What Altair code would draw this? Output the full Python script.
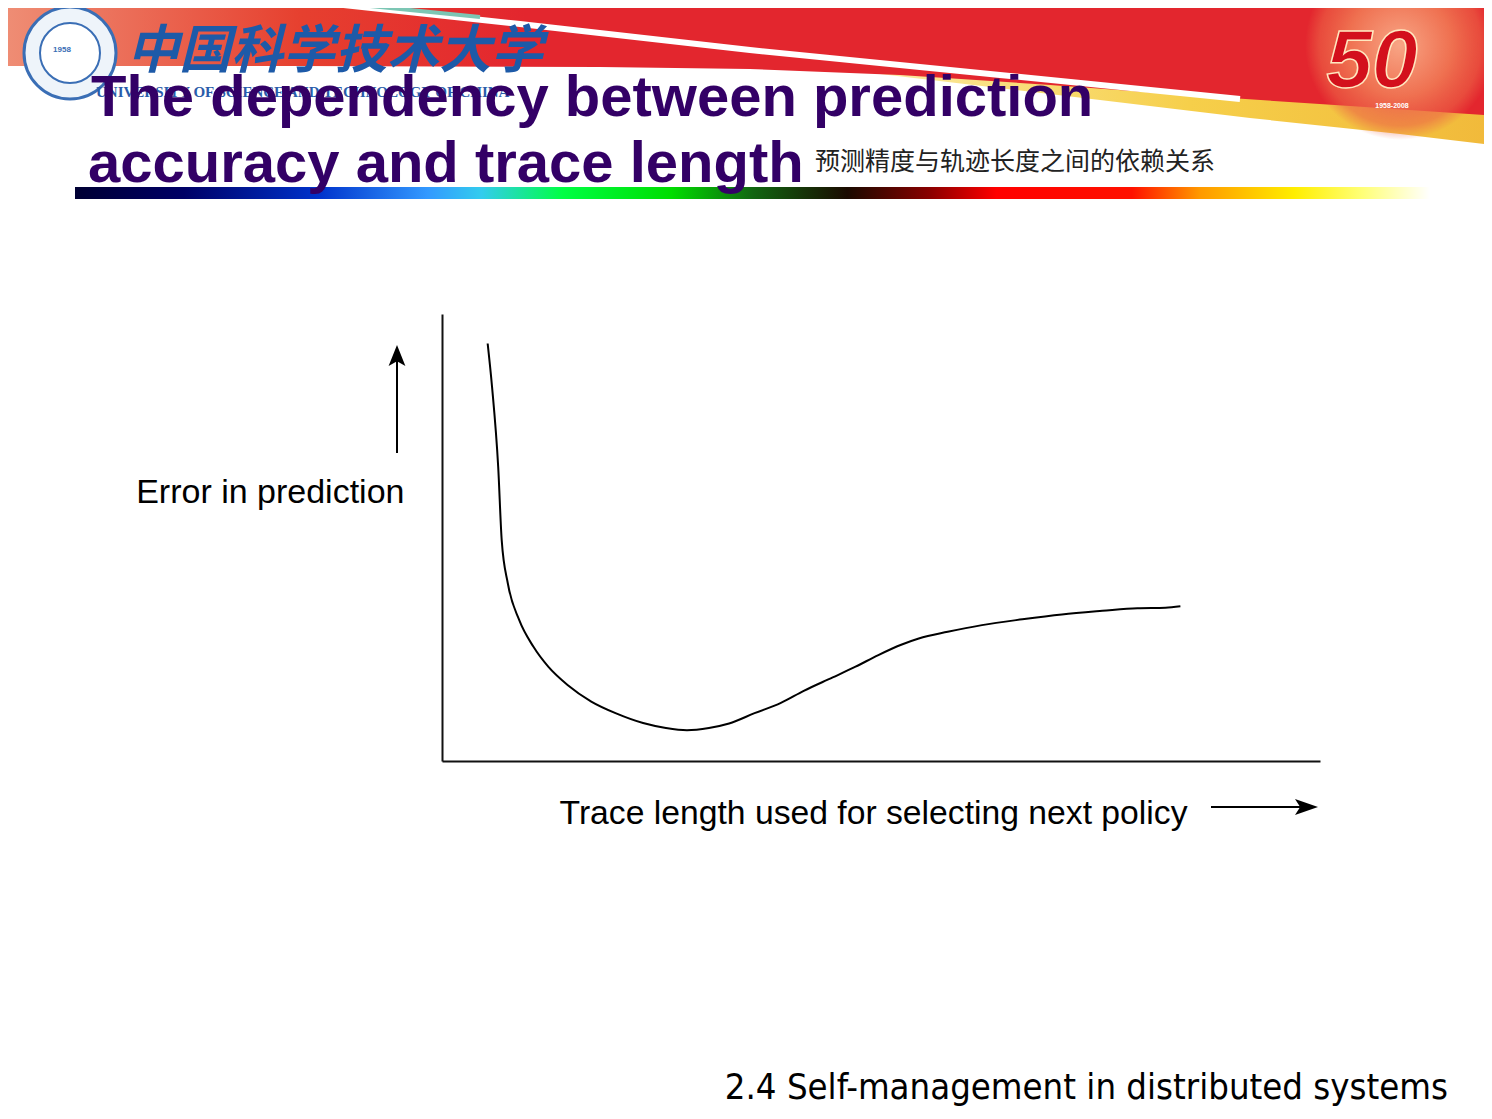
import altair as alt
import pandas as pd

# curve (axis runs 0-100 in both directions, no ticks shown)
trace_length = [5.2, 5.7, 6.4, 6.8, 7.5, 8.8, 10.4, 12.1, 14.3, 17.0, 19.9, 22.9,
                25.5, 27.9, 30.4, 32.7, 35.6, 38.6, 41.2, 44.5, 47.1, 49.7, 52.3,
                54.3, 57.6, 61.5, 66.1, 70.6, 75.2, 79.2, 82.4, 84.1]
prediction_error = [93.4, 83.7, 65.8, 49.4, 39.7, 31.5, 25.6, 21.1, 17.0, 13.3, 10.6,
                    8.5, 7.4, 6.9, 7.4, 8.4, 10.7, 13.0, 15.7, 18.7, 21.1, 23.7, 26.0,
                    27.4, 28.9, 30.4, 31.7, 32.8, 33.6, 34.2, 34.3, 34.6]

title_lines = ["The dependency between prediction", "accuracy and trace length"]
subtitle_cn = "预测精度与轨迹长度之间的依赖关系"
x_label = "Trace length used for selecting next policy"
y_label = "Error in prediction"
footer = "2.4 Self-management in distributed systems"
school_cn = "中国科学技术大学"
school_en = "UNIVERSITY OF SCIENCE AND TECHNOLOGY OF CHINA"

W, H = 878, 447          # plot area
OX, OY = 442, 314        # where the plot area sits on the page


def px(x):
    return x - OX


def py(y):
    return y - OY


one = alt.Data(values=[{}])
NOSCALE = dict(scale=None, axis=None)

# --- slide banner (decoration, page pixels) ---
red_edge = pd.DataFrame({
    "x": [px(v) for v in [0, 300, 600, 750, 900, 1050, 1200, 1350, 1500]],
    "y": [py(v) for v in [66, 66, 67, 69, 75, 85, 96, 106, 116]],
})
yellow_edge = pd.DataFrame({
    "x": [px(v) for v in [880, 1100, 1250, 1400, 1500]],
    "y": [py(v) for v in [74, 100, 118, 134, 146]],
})
red_edge["top"] = py(-10)
yellow_edge["top"] = py(-10)
streak = pd.DataFrame({
    "x": [px(v) for v in [297, 520, 750, 1000, 1240]],
    "y": [py(v) for v in [0, 24, 50, 75, 99]],
})
teal = pd.DataFrame({
    "x": [px(v) for v in [310, 480]],
    "y": [py(v) for v in [0, 17]],
})

yellow = alt.Chart(yellow_edge).mark_area(
    color=alt.Gradient(gradient="linear", x1=0, x2=1, y1=0, y2=0,
                       stops=[alt.GradientStop(offset=0, color="#FBE9A0"),
                              alt.GradientStop(offset=0.5, color="#F6CF4A"),
                              alt.GradientStop(offset=1, color="#F1B93A")])
).encode(x=alt.X("x:Q", **NOSCALE), y=alt.Y("y:Q", **NOSCALE), y2="top:Q")

red = alt.Chart(red_edge).mark_area(
    color=alt.Gradient(gradient="linear", x1=0, x2=1, y1=0, y2=0,
                       stops=[alt.GradientStop(offset=0, color="#EF8F76"),
                              alt.GradientStop(offset=0.2, color="#E6402F"),
                              alt.GradientStop(offset=0.35, color="#E3262E"),
                              alt.GradientStop(offset=1, color="#E3262E")])
).encode(x=alt.X("x:Q", **NOSCALE), y=alt.Y("y:Q", **NOSCALE), y2="top:Q")

halo = alt.Chart(one).mark_point(
    shape="circle", opacity=1, size=36000, strokeWidth=0,
    fill=alt.Gradient(gradient="radial", x1=0.5, y1=0.5, r1=0, x2=0.5, y2=0.5, r2=0.5,
                      stops=[alt.GradientStop(offset=0, color="#F8A585"),
                             alt.GradientStop(offset=0.55, color="#EF7050"),
                             alt.GradientStop(offset=0.85, color="rgba(236,100,70,0.6)"),
                             alt.GradientStop(offset=1, color="rgba(236,100,70,0)")])
).encode(x=alt.value(px(1400)), y=alt.value(py(45)))

white_streak = alt.Chart(streak).mark_line(color="white", strokeWidth=6).encode(
    x=alt.X("x:Q", **NOSCALE), y=alt.Y("y:Q", **NOSCALE))
teal_streak = alt.Chart(teal).mark_line(color="#7CC6B4", strokeWidth=4).encode(
    x=alt.X("x:Q", **NOSCALE), y=alt.Y("y:Q", **NOSCALE))

logo50 = alt.Chart(one).mark_text(
    text="50", font="Liberation Sans", fontSize=82, fontWeight="bold", fontStyle="italic",
    color="#D3101C", stroke="#FFE8C0", strokeWidth=1.5, align="center", baseline="middle"
).encode(x=alt.value(px(1372)), y=alt.value(py(62)))
logo_years = alt.Chart(one).mark_text(
    text="1958-2008", font="Liberation Sans", fontSize=7, fontWeight="bold", color="white"
).encode(x=alt.value(px(1392)), y=alt.value(py(106)))

seal_outer = alt.Chart(one).mark_point(shape="circle", fill="#EEF4FA", stroke="#3A6EB5",
                                       strokeWidth=3, opacity=1, size=8464).encode(
    x=alt.value(px(70)), y=alt.value(py(53)))
seal_inner = alt.Chart(one).mark_point(shape="circle", fill="white", stroke="#3A6EB5",
                                       strokeWidth=2, opacity=1, size=3600).encode(
    x=alt.value(px(70)), y=alt.value(py(53)))
seal_year = alt.Chart(one).mark_text(text="1958", font="Liberation Sans", fontSize=8,
                                     fontWeight="bold", color="#3A6EB5").encode(
    x=alt.value(px(62)), y=alt.value(py(50)))

school_mark = alt.Chart(one).mark_text(
    text=school_cn, font="Noto Sans CJK SC", fontSize=52, fontWeight="bold",
    fontStyle="italic", color="#1D5AA8", align="left", baseline="alphabetic"
).encode(x=alt.value(px(127)), y=alt.value(py(68)))
school_name = alt.Chart(one).mark_text(
    text=school_en, font="Liberation Serif", fontSize=15, fontWeight="bold",
    color="#2A5CAA", align="left", baseline="alphabetic"
).encode(x=alt.value(px(96)), y=alt.value(py(97)))

title1 = alt.Chart(one).mark_text(
    text=title_lines[0], font="Liberation Sans", fontSize=58, fontWeight="bold",
    color="#330066", align="left", baseline="alphabetic"
).encode(x=alt.value(px(91)), y=alt.value(py(116)))
title2 = alt.Chart(one).mark_text(
    text=title_lines[1], font="Liberation Sans", fontSize=58, fontWeight="bold",
    color="#330066", align="left", baseline="alphabetic"
).encode(x=alt.value(px(88)), y=alt.value(py(182)))
subtitle = alt.Chart(one).mark_text(
    text=subtitle_cn, font="Noto Sans CJK SC", fontSize=25, color="#222222",
    align="left", baseline="alphabetic"
).encode(x=alt.value(px(815)), y=alt.value(py(170)))

rainbow = alt.Chart(one).mark_rect(
    color=alt.Gradient(gradient="linear", x1=0, x2=1, y1=0, y2=0, stops=[
        alt.GradientStop(offset=0, color="#000033"),
        alt.GradientStop(offset=0.08, color="#000066"),
        alt.GradientStop(offset=0.18, color="#0033CC"),
        alt.GradientStop(offset=0.26, color="#3399FF"),
        alt.GradientStop(offset=0.30, color="#33CCEE"),
        alt.GradientStop(offset=0.36, color="#00FF44"),
        alt.GradientStop(offset=0.44, color="#00DD00"),
        alt.GradientStop(offset=0.50, color="#116611"),
        alt.GradientStop(offset=0.57, color="#1A0A00"),
        alt.GradientStop(offset=0.63, color="#880000"),
        alt.GradientStop(offset=0.68, color="#FF0000"),
        alt.GradientStop(offset=0.78, color="#FF1100"),
        alt.GradientStop(offset=0.83, color="#FF9900"),
        alt.GradientStop(offset=0.90, color="#FFEE00"),
        alt.GradientStop(offset=0.95, color="#FFFF77"),
        alt.GradientStop(offset=1, color="#FFFFFF"),
    ])
).encode(x=alt.value(px(75)), x2=alt.value(px(1430)), y=alt.value(py(187)), y2=alt.value(py(199)))

# --- the actual chart ---
df = pd.DataFrame({"trace": trace_length, "error": prediction_error})

curve = alt.Chart(df).mark_line(color="#000000", strokeWidth=2, interpolate="monotone").encode(
    x=alt.X("trace:Q", scale=alt.Scale(domain=[0, 100]),
            axis=alt.Axis(title=x_label, ticks=False, labels=False, grid=False,
                          domainColor="#111111", domainWidth=2,
                          titleFont="Liberation Sans", titleFontSize=33.7,
                          titleFontWeight="normal", titleColor="#000000",
                          titleAlign="right", titleBaseline="alphabetic",
                          titleX=1187 - OX, titleY=823 - (OY + H))),
    y=alt.Y("error:Q", scale=alt.Scale(domain=[0, 100]),
            axis=alt.Axis(title=y_label, ticks=False, labels=False, grid=False,
                          domainColor="#111111", domainWidth=2,
                          titleFont="Liberation Sans", titleFontSize=34,
                          titleFontWeight="normal", titleColor="#000000",
                          titleAngle=0, titleAlign="right", titleBaseline="alphabetic",
                          titleX=404 - OX, titleY=502 - OY)),
)

# arrows beside the axis titles
y_arrow = alt.Chart(one).mark_rule(color="#000000", strokeWidth=2).encode(
    x=alt.value(px(397)), y=alt.value(py(453)), y2=alt.value(py(360)))
y_head = alt.Chart(one).mark_point(shape="M0,-1 L0.8,1 L0,0.55 L-0.8,1 Z", filled=True,
                                   color="#000000", opacity=1, size=441).encode(
    x=alt.value(px(397)), y=alt.value(py(355.5)))
x_arrow = alt.Chart(one).mark_rule(color="#000000", strokeWidth=2).encode(
    x=alt.value(px(1211)), x2=alt.value(px(1300)), y=alt.value(py(807)))
x_head = alt.Chart(one).mark_point(shape="M1,0 L-1,-0.7 L-0.55,0 L-1,0.7 Z", filled=True,
                                   color="#000000", opacity=1, size=529).encode(
    x=alt.value(px(1306.5)), y=alt.value(py(807)))

foot = alt.Chart(one).mark_text(
    text=footer, font="DejaVu Sans Condensed", fontSize=36.2, color="#000000",
    align="right", baseline="alphabetic"
).encode(x=alt.value(px(1448)), y=alt.value(py(1099)))

chart = alt.layer(
    yellow, red, halo, white_streak, teal_streak, logo50, logo_years,
    seal_outer, seal_inner, seal_year, school_mark, school_name,
    rainbow, title1, title2, subtitle,
    curve, y_arrow, y_head, x_arrow, x_head, foot,
).resolve_scale(x="independent", y="independent").properties(
    width=W, height=H,
    padding={"left": OX - 8, "top": OY - 8, "right": 1476 - (OX - 8) - W,
             "bottom": 1100 - (OY - 8) - H},
    autosize=alt.AutoSizeParams(type="none"),
    background="white",
).configure_view(strokeWidth=0)

chart.save("out.html", embed_options={"renderer": "svg", "actions": False})
